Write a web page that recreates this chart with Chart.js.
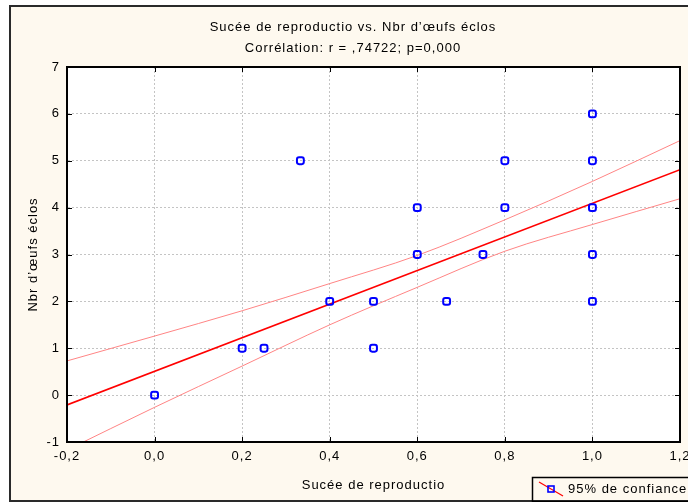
<!DOCTYPE html>
<html>
<head>
<meta charset="utf-8">
<script src="https://cdn.jsdelivr.net/npm/chart.js@4"></script>
<style>
html, body { margin: 0; padding: 0; overflow: hidden; background: #fff; }
#cadre { position: absolute; left: 9px; top: 5px; width: 700px; height: 497px; box-sizing: border-box; border: 2px solid #2a2a2a; background: #fef9ef; }
#graph { position: absolute; left: 0; top: 0; }
</style>
</head>
<body>
<div id="cadre"></div>
<canvas id="graph" width="688" height="502"></canvas>
<script>
// observations
const succes = [0, 0.2, 0.25, 0.333, 0.4, 0.5, 0.5, 0.6, 0.6, 0.667, 0.75, 0.8, 0.8, 1, 1, 1, 1, 1];
const oeufs = [0, 1, 1, 5, 2, 2, 1, 4, 3, 2, 3, 5, 4, 6, 5, 4, 3, 2];

// droite de regression
const droiteX = [-0.2, 1.2];
const droiteY = [-0.21, 4.81];

// bandes de confiance a 95%
const bandeX = [-0.2, 0, 0.2, 0.4, 0.6, 0.8, 1.0, 1.2];
const bandeHaut = [0.73, 1.26, 1.80, 2.38, 2.98, 3.74, 4.56, 5.43];
const bandeBas = [-1.17, -0.26, 0.62, 1.50, 2.30, 3.07, 3.64, 4.19];

const xTicks = ['-0,2', '0,0', '0,2', '0,4', '0,6', '0,8', '1,0', '1,2'];
const yTicks = ['-1', '0', '1', '2', '3', '4', '5', '6', '7'];

const titre = 'Sucée de reproductio vs. Nbr d’œufs éclos';
const sousTitre = 'Corrélation: r = ,74722; p=0,000';
const titreX = 'Sucée de reproductio';
const titreY = 'Nbr d’œufs éclos';
const legende = '95% de confiance';

const police = '13px "Liberation Sans", Arial, sans-serif';
Chart.defaults.font.family = '"Liberation Sans", Arial, sans-serif';
Chart.defaults.font.size = 13;
Chart.defaults.color = '#000';

function points(xs, ys) {
    return xs.map((x, i) => ({ x: x, y: ys[i] }));
}

const decor = {
    id: 'decor',
    beforeDraw(chart) {
        const ctx = chart.ctx;
        const a = chart.chartArea;
        ctx.letterSpacing = '1px';
        ctx.save();
        ctx.fillStyle = '#fff';
        ctx.fillRect(a.left, a.top, a.right - a.left, a.bottom - a.top);
        ctx.restore();
    },
    afterDraw(chart) {
        const ctx = chart.ctx;
        const a = chart.chartArea;
        const sx = chart.scales.x;
        const sy = chart.scales.y;
        ctx.save();
        ctx.strokeStyle = '#000';
        ctx.lineWidth = 2;
        ctx.strokeRect(a.left, a.top, a.right - a.left, a.bottom - a.top);

        // petites graduations vers l'interieur
        ctx.lineWidth = 1;
        ctx.beginPath();
        sx.ticks.forEach(t => {
            const px = Math.round(sx.getPixelForValue(t.value)) + 0.5;
            ctx.moveTo(px, a.top); ctx.lineTo(px, a.top + 5);
            ctx.moveTo(px, a.bottom); ctx.lineTo(px, a.bottom - 5);
        });
        sy.ticks.forEach(t => {
            const py = Math.round(sy.getPixelForValue(t.value)) + 0.5;
            ctx.moveTo(a.left, py); ctx.lineTo(a.left + 5, py);
            ctx.moveTo(a.right, py); ctx.lineTo(a.right - 5, py);
        });
        ctx.stroke();

        ctx.fillStyle = '#000';
        ctx.font = police;
        ctx.textAlign = 'center';
        ctx.textBaseline = 'middle';
        ctx.fillText(titre, 353, 27);
        ctx.fillText(sousTitre, 353, 48);
        ctx.fillText(titreX, (a.left + a.right) / 2, 485);
        ctx.save();
        ctx.translate(33, (a.top + a.bottom) / 2);
        ctx.rotate(-Math.PI / 2);
        ctx.fillText(titreY, 0, 0);
        ctx.restore();

        // legende
        ctx.lineWidth = 1.5;
        ctx.strokeStyle = '#000';
        ctx.strokeRect(532.5, 477.5, 180, 24);
        ctx.strokeStyle = '#ff0000';
        ctx.lineWidth = 1.2;
        ctx.beginPath();
        ctx.moveTo(539, 482);
        ctx.lineTo(563, 496);
        ctx.stroke();
        ctx.strokeStyle = '#0000ff';
        ctx.lineWidth = 1.6;
        ctx.strokeRect(548, 486, 6, 6);
        ctx.textAlign = 'left';
        ctx.fillText(legende, 568, 489);
        ctx.restore();
    }
};

new Chart(document.getElementById('graph'), {
    type: 'scatter',
    data: {
        datasets: [{
            label: 'Observations',
            data: points(succes, oeufs),
            pointStyle: 'rectRounded',
            pointRadius: 4,
            borderColor: '#0000ff',
            backgroundColor: 'rgba(0,0,0,0)',
            borderWidth: 2
        }, {
            label: 'Régression',
            data: points(droiteX, droiteY),
            showLine: true,
            pointRadius: 0,
            borderColor: '#ff0000',
            borderWidth: 1.6
        }, {
            label: legende,
            data: points(bandeX, bandeHaut),
            showLine: true,
            pointRadius: 0,
            borderColor: '#ff8585',
            borderWidth: 1,
            cubicInterpolationMode: 'monotone'
        }, {
            label: legende,
            data: points(bandeX, bandeBas),
            showLine: true,
            pointRadius: 0,
            borderColor: '#ff8585',
            borderWidth: 1,
            cubicInterpolationMode: 'monotone'
        }]
    },
    options: {
        responsive: false,
        animation: false,
        devicePixelRatio: 1,
        layout: { padding: { left: 0, right: 8, top: 67, bottom: 0 } },
        plugins: {
            legend: { display: false },
            tooltip: { enabled: false }
        },
        scales: {
            x: {
                type: 'linear',
                min: -0.2,
                max: 1.2,
                ticks: {
                    stepSize: 0.2,
                    padding: 7,
                    maxRotation: 0,
                    autoSkip: false,
                    callback: (v, i) => xTicks[i]
                },
                grid: { color: '#c4c4c4', drawTicks: false },
                border: { color: '#000', width: 2, dash: [2, 2] },
                afterFit: s => {
                    s.height = 60;
                    s.paddingLeft = 0;
                    s.paddingRight = 0;
                }
            },
            y: {
                type: 'linear',
                min: -1,
                max: 7,
                ticks: {
                    stepSize: 1,
                    padding: 7,
                    callback: (v, i) => yTicks[i]
                },
                grid: { color: '#c4c4c4', drawTicks: false },
                border: { color: '#000', width: 2, dash: [2, 2] },
                afterFit: s => {
                    s.width = 67;
                }
            }
        }
    },
    plugins: [decor]
});
</script>
</body>
</html>
